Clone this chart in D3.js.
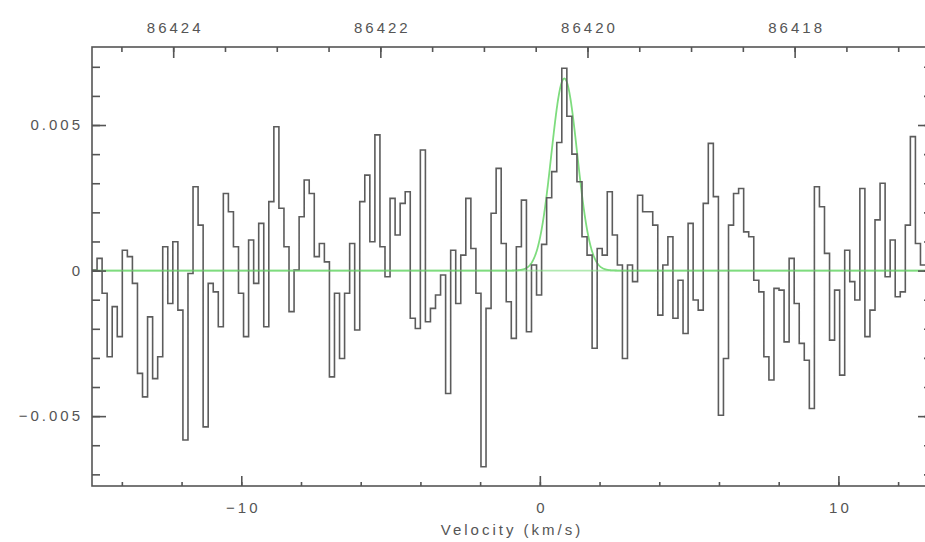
<!DOCTYPE html>
<html>
<head>
<meta charset="utf-8">
<script src="https://cdn.jsdelivr.net/npm/d3@7"></script>
<style>
  html, body { margin: 0; padding: 0; background: #ffffff; overflow: hidden; }
  text { font-family: "Liberation Sans", Arial, sans-serif; }
</style>
</head>
<body>
<svg id="chart" width="925" height="542"></svg>
<script>
// Spectrum channels: left edge of the first channel and channel width (km/s)
const VELOCITY_START = -15.0;
const CHANNEL_WIDTH = 0.1692;

// Channel intensities, in units of 1e-3
const intensityMilli = [
   0.02,  0.42, -0.78, -2.96, -1.24, -2.27,  0.70,  0.48, -0.44, -3.53,
  -4.34, -1.59, -3.71, -2.96,  0.82, -1.13,  0.99, -1.36, -5.82, -0.10,
   2.88,  1.56, -5.37, -0.44, -0.73, -1.93,  2.65,  2.02,  0.82, -0.78,
  -2.27,  1.05, -0.44,  1.62, -1.93,  2.37,  4.94,  2.14,  0.82, -1.41,
   0.02,  1.85,  3.11,  2.65,  0.48,  0.93,  0.30, -3.65, -0.78, -3.02,
  -0.78,  0.93, -2.04,  2.37,  3.28,  0.99,  4.66,  0.82, -0.21,  2.48,
   1.22,  2.31,  2.71, -1.64, -1.99,  4.14, -1.76, -1.30, -0.84, -0.15,
  -4.22,  0.70, -1.13,  0.53,  2.48,  0.76, -0.78, -6.74, -1.30,  1.97,
   3.51,  0.93, -1.07, -2.33,  0.82,  2.42, -2.10,  0.19, -0.84,  0.90,
   2.50,  3.40,  4.40,  6.95,  5.30,  4.00,  3.05,  1.16,  0.53, -2.67,
   0.76,  0.53,  2.71,  1.22,  0.19, -3.02,  0.19, -0.38,  2.59,  2.02,
   2.02,  1.56, -1.53,  0.19,  1.16, -1.64, -0.33, -2.16,  1.62, -1.01,
  -1.36,  2.31,  4.37,  2.54, -4.97, -3.02,  1.56,  2.65,  2.82,  1.33,
   1.16, -0.33, -0.73, -2.96, -3.76, -0.61, -0.67, -2.45,  0.42, -1.13,
  -2.50, -3.08, -4.74,  2.88,  2.19,  0.59, -2.39, -0.67, -3.59,  0.70,
  -0.38, -1.01,  2.82, -2.27, -1.36,  1.74,  3.00, -0.21,  1.05, -0.90,
  -0.73,  1.56,  4.60,  0.93,  0.19
];

// Gaussian fit of the line (amplitude, centre in km/s, FWHM in km/s)
const FIT_AMPLITUDE = 0.0066;
const FIT_CENTER = 0.82;
const FIT_FWHM = 1.02;

// Axes
const VELOCITY_DOMAIN = [-15.0, 13.135];
const INTENSITY_DOMAIN = [-0.0074, 0.00768];
const REST_FREQUENCY = 86420.46;   // MHz at v = 0
const SPEED_OF_LIGHT = 299792.458; // km/s
const velocityTicks = [-10, 0, 10];
const velocityMinorStep = 2;
const intensityTicks = [-0.005, 0, 0.005];
const intensityMinorStep = 0.001;
const frequencyTicks = [86424, 86422, 86420, 86418];
const frequencyMinorStep = 0.5;
const X_LABEL = "Velocity (km/s)";

const INK = "#555555";
const LINE_INK = "#5c5c5c";
const FIT_COLOR = "#7edc7e";
const FONT_SIZE = "15px";
const SPACING = 3;

const svg = d3.select("#chart");
const plot = { left: 92, right: 932, top: 47, bottom: 486 };

const x = d3.scaleLinear().domain(VELOCITY_DOMAIN).range([plot.left, plot.right]);
const y = d3.scaleLinear().domain(INTENSITY_DOMAIN).range([plot.bottom, plot.top]);
const toFreq = v => REST_FREQUENCY * (1 - v / SPEED_OF_LIGHT);
const xTop = d3.scaleLinear().domain(VELOCITY_DOMAIN.map(toFreq)).range([plot.left, plot.right]);

svg.append("defs").append("clipPath").attr("id", "plotClip")
  .append("rect")
  .attr("x", plot.left).attr("y", plot.top)
  .attr("width", plot.right - plot.left).attr("height", plot.bottom - plot.top);

const g = svg.append("g").attr("clip-path", "url(#plotClip)");

// Baseline plus Gaussian fit
const sigma = FIT_FWHM / (2 * Math.sqrt(2 * Math.log(2)));
const fitPoints = d3.range(VELOCITY_DOMAIN[0], VELOCITY_DOMAIN[1] + 0.01, 0.01).map(v => ({
  v, f: FIT_AMPLITUDE * Math.exp(-0.5 * Math.pow((v - FIT_CENTER) / sigma, 2))
}));
g.append("path")
  .datum(fitPoints)
  .attr("d", d3.line().x(d => x(d.v)).y(d => y(d.f)))
  .attr("fill", "none")
  .attr("stroke", FIT_COLOR)
  .attr("stroke-width", 1.8);

// Histogram-style spectrum: each channel is a flat step
const steps = intensityMilli.map((m, i) => ({ v: VELOCITY_START + i * CHANNEL_WIDTH, f: m * 1e-3 }));
steps.push({ v: VELOCITY_START + intensityMilli.length * CHANNEL_WIDTH, f: intensityMilli[intensityMilli.length - 1] * 1e-3 });

const stepLine = d3.line().x(d => x(d.v)).y(d => y(d.f)).curve(d3.curveStepAfter);
g.append("path")
  .datum(steps)
  .attr("d", stepLine)
  .attr("fill", "none")
  .attr("stroke", LINE_INK)
  .attr("stroke-width", 1.6)
  .attr("stroke-linejoin", "miter");

// Zero line drawn again over the spectrum, lightly
g.append("line")
  .attr("x1", plot.left).attr("x2", plot.right)
  .attr("y1", y(0)).attr("y2", y(0))
  .attr("stroke", FIT_COLOR).attr("stroke-width", 1.6).attr("opacity", 0.6);

// Frame
svg.append("rect")
  .attr("x", plot.left).attr("y", plot.top)
  .attr("width", plot.right - plot.left).attr("height", plot.bottom - plot.top)
  .attr("fill", "none").attr("stroke", INK).attr("stroke-width", 1.6);

function styleAxis(sel) {
  sel.select(".domain").remove();
  sel.selectAll(".tick line").attr("stroke", INK).attr("stroke-width", 1.6);
  sel.selectAll(".tick text")
    .attr("fill", INK)
    .style("font-size", FONT_SIZE)
    .style("letter-spacing", SPACING + "px");
}

const rangeOf = (dom, step) => {
  const lo = Math.ceil(Math.min(...dom) / step - 1e-9), hi = Math.floor(Math.max(...dom) / step + 1e-9);
  return d3.range(lo, hi + 1).map(k => +(k * step).toFixed(6));
};

// Bottom axis (velocity)
svg.append("g").attr("transform", `translate(0,${plot.bottom})`)
  .call(d3.axisBottom(x).tickValues(rangeOf(VELOCITY_DOMAIN, velocityMinorStep)).tickSize(-4).tickFormat(""))
  .call(styleAxis);
svg.append("g").attr("transform", `translate(0,${plot.bottom})`)
  .call(d3.axisBottom(x).tickValues(velocityTicks).tickSize(-10).tickPadding(16).tickFormat(d3.format("d")))
  .call(styleAxis)
  .call(s => s.selectAll(".tick text").attr("dx", SPACING / 2));

// Top axis (frequency)
svg.append("g").attr("transform", `translate(0,${plot.top})`)
  .call(d3.axisTop(xTop).tickValues(rangeOf(xTop.domain(), frequencyMinorStep)).tickSize(-5).tickFormat(""))
  .call(styleAxis);
svg.append("g").attr("transform", `translate(0,${plot.top})`)
  .call(d3.axisTop(xTop).tickValues(frequencyTicks).tickSize(-11).tickPadding(14).tickFormat(d3.format("d")))
  .call(styleAxis)
  .call(s => s.selectAll(".tick text").attr("dx", SPACING / 2));

// Left axis (intensity)
svg.append("g").attr("transform", `translate(${plot.left},0)`)
  .call(d3.axisLeft(y).tickValues(rangeOf(INTENSITY_DOMAIN, intensityMinorStep)).tickSize(-8).tickFormat(""))
  .call(styleAxis);
svg.append("g").attr("transform", `translate(${plot.left},0)`)
  .call(d3.axisLeft(y).tickValues(intensityTicks).tickSize(-14).tickPadding(9)
    .tickFormat(d => d === 0 ? "0" : d3.format(".3f")(d)))
  .call(styleAxis);

// Right axis (ticks only)
svg.append("g").attr("transform", `translate(${plot.right},0)`)
  .call(d3.axisRight(y).tickValues(rangeOf(INTENSITY_DOMAIN, intensityMinorStep)).tickSize(-8).tickFormat(""))
  .call(styleAxis);
svg.append("g").attr("transform", `translate(${plot.right},0)`)
  .call(d3.axisRight(y).tickValues(intensityTicks).tickSize(-14).tickFormat(""))
  .call(styleAxis);

// Axis title
svg.append("text")
  .attr("x", 512).attr("y", 535)
  .attr("text-anchor", "middle")
  .attr("fill", INK)
  .style("font-size", FONT_SIZE)
  .style("letter-spacing", "3px")
  .text(X_LABEL);
</script>
</body>
</html>
